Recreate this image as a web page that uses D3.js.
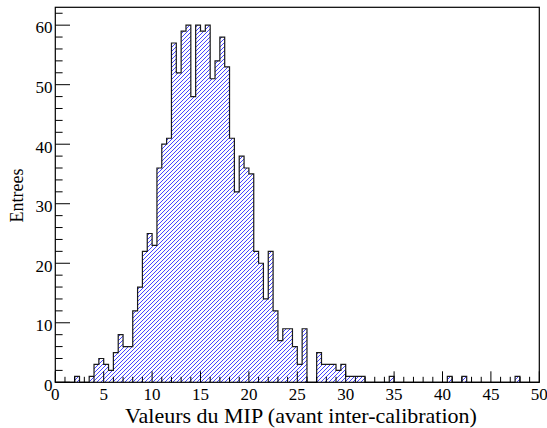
<!DOCTYPE html>
<html>
<head>
<meta charset="utf-8">
<script src="https://cdn.jsdelivr.net/npm/d3@7"></script>
<style>
  html, body { margin: 0; padding: 0; background: #fff; }
  svg { display: block; }
</style>
</head>
<body>
<svg id="chart" width="547" height="428" font-family="Liberation Serif, Times New Roman, serif"></svg>
<script>
// Histogram binning: 100 bins of width 0.5 from 0 to 50
const binLow = 0;
const binWidth = 0.5;
// Entries per bin (bin i covers [i*0.5, (i+1)*0.5])
const counts = [
  0, 0, 0, 0, 1, 0, 0, 1, 3, 4,          // 0 - 5
  3, 2, 5, 8, 6, 6, 12, 16, 22, 25,      // 5 - 10
  23, 36, 40, 41, 57, 52, 59, 60, 48, 60, // 10 - 15
  59, 60, 51, 54, 58, 53, 41, 32, 38, 36, // 15 - 20
  35, 22, 20, 14, 22, 12, 7, 9, 9, 6,    // 20 - 25
  3, 9, 0, 0, 5, 3, 3, 3, 2, 3,          // 25 - 30
  1, 1, 1, 1, 0, 0, 0, 0, 0, 1,          // 30 - 35
  0, 0, 0, 0, 0, 0, 0, 0, 0, 0,          // 35 - 40
  0, 1, 0, 0, 1, 0, 0, 0, 0, 0,          // 40 - 45
  0, 0, 0, 0, 0, 1, 0, 0, 0, 0           // 45 - 50
];
const xMajorTicks = [0, 5, 10, 15, 20, 25, 30, 35, 40, 45, 50];
const yMajorTicks = [0, 10, 20, 30, 40, 50, 60];
const xTitle = "Valeurs du MIP (avant inter-calibration)";
const yTitle = "Entrees";

const FONT = "Liberation Serif";
const svg = d3.select("#chart");
const L = 55.3, R = 539.3, T = 7.3, B = 382.3;

const x = d3.scaleLinear().domain([0, 50]).range([L, R]);
const y = d3.scaleLinear().domain([0, 63]).range([B, T]);

// Step outline of the histogram
const pts = [[binLow, 0]];
counts.forEach((c, i) => {
  const x0 = binLow + i * binWidth, x1 = x0 + binWidth;
  pts.push([x0, c], [x1, c]);
});
pts.push([binLow + counts.length * binWidth, 0]);

const line = d3.line().x(d => x(d[0])).y(d => y(d[1]));

// Clip region = area under the histogram
svg.append("defs").append("clipPath")
  .attr("id", "histClip")
  .append("path")
  .attr("d", line(pts) + "Z");

// Diagonal hatching, clipped to the histogram area
const spacing = 4;
const hatch = svg.append("g").attr("clip-path", "url(#histClip)");
const hatchOffsets = d3.range(L - (B - T) - 10, R + 10, spacing);
hatch.selectAll("line").data(hatchOffsets).join("line")
  .attr("x1", d => d).attr("y1", B + 2)
  .attr("x2", d => d + (B - T) + 4).attr("y2", T - 2)
  .attr("stroke", "#0000ff")
  .attr("stroke-width", 0.72)
  .attr("shape-rendering", "crispEdges");

svg.append("path")
  .attr("d", line(pts))
  .attr("fill", "none")
  .attr("stroke", "#1a1a1a")
  .attr("stroke-width", 1.2);

// Frame
svg.append("rect")
  .attr("x", L).attr("y", T)
  .attr("width", R - L).attr("height", B - T)
  .attr("fill", "none").attr("stroke", "#000000").attr("stroke-width", 1.2);

// X axis ticks (drawn inwards) and labels
const xAxis = svg.append("g");
d3.range(0, 51, 1).forEach(v => {
  const major = v % 5 === 0;
  xAxis.append("line")
    .attr("x1", x(v)).attr("x2", x(v))
    .attr("y1", B).attr("y2", B - (major ? 11 : 5.5))
    .attr("stroke", "#000000").attr("stroke-width", 1);
});
xAxis.selectAll("text.tick").data(xMajorTicks).join("text")
  .attr("class", "tick")
  .attr("x", d => x(d)).attr("y", 400)
  .attr("text-anchor", "middle")
  .attr("font-family", FONT)
  .attr("font-size", 17)
  .attr("fill", "#000000")
  .text(d => d);

// Y axis ticks (drawn inwards) and labels
const yAxis = svg.append("g");
d3.range(0, 63, 2).forEach(v => {
  const major = v % 10 === 0;
  yAxis.append("line")
    .attr("x1", L).attr("x2", L + (major ? 14.7 : 7.3))
    .attr("y1", y(v)).attr("y2", y(v))
    .attr("stroke", "#000000").attr("stroke-width", 1);
});
yAxis.selectAll("text.tick").data(yMajorTicks).join("text")
  .attr("class", "tick")
  .attr("x", 52.5).attr("y", d => y(d) + 8.3)
  .attr("text-anchor", "end")
  .attr("font-family", FONT)
  .attr("font-size", 17)
  .attr("fill", "#000000")
  .text(d => d);

// Axis titles
svg.append("text")
  .attr("x", 301).attr("y", 422.5)
  .attr("text-anchor", "middle")
  .attr("font-family", FONT)
  .attr("font-size", 22)
  .attr("fill", "#000000")
  .text(xTitle);

svg.append("text")
  .attr("transform", "translate(23,195.5) rotate(-90)")
  .attr("text-anchor", "middle")
  .attr("font-family", FONT)
  .attr("font-size", 18)
  .attr("fill", "#000000")
  .text(yTitle);
</script>
</body>
</html>
